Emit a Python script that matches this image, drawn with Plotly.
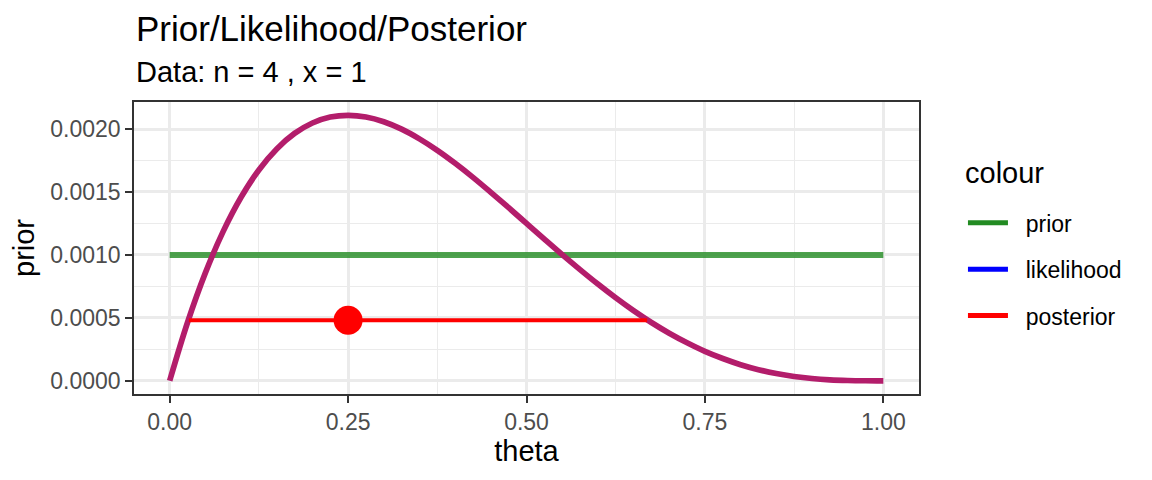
import plotly.graph_objects as go

# posterior values (theta step 0.025)
theta = [i * 0.025 for i in range(41)]
posterior = [
    0.0, 0.000463, 0.000857, 0.001187, 0.001458, 0.001675, 0.001842, 0.001965,
    0.002048, 0.002095, 0.002109, 0.002096, 0.002058, 0.001999, 0.001922, 0.001831,
    0.001728, 0.001616, 0.001497, 0.001375, 0.00125, 0.001125, 0.001002, 0.000883,
    0.000768, 0.000659, 0.000557, 0.000463, 0.000378, 0.000302, 0.000234, 0.000177,
    0.000128, 0.0000884, 0.0000574, 0.0000342, 0.000018, 0.0000078, 0.0000024,
    0.0000003, 0.0,
]
prior_theta = [0.0, 1.0]
prior = [0.001, 0.001]

# interval and mode for the posterior
interval_theta = [0.027, 0.669]
interval_height = [0.00048, 0.00048]
mode_theta = [0.25]
mode_height = [0.00048]

x_ticks = [0.0, 0.25, 0.5, 0.75, 1.0]
x_labels = ["0.00", "0.25", "0.50", "0.75", "1.00"]
y_ticks = [0.0, 0.0005, 0.001, 0.0015, 0.002]
y_labels = ["0.0000", "0.0005", "0.0010", "0.0015", "0.0020"]

font = "Liberation Sans, Arial, sans-serif"

fig = go.Figure()

# prior line
fig.add_trace(go.Scatter(
    x=prior_theta, y=prior, mode="lines",
    line=dict(color="rgba(34,139,34,0.8)", width=6),
    showlegend=False, hoverinfo="skip",
))

# likelihood (scaled) and posterior overlap -> purple
fig.add_trace(go.Scatter(
    x=theta, y=posterior, mode="lines",
    line=dict(color="#B31D6B", width=5.7, shape="spline"),
    showlegend=False,
))

# posterior interval + mode
fig.add_trace(go.Scatter(
    x=interval_theta, y=interval_height, mode="lines",
    line=dict(color="#FF0000", width=4),
    showlegend=False, hoverinfo="skip",
))
fig.add_trace(go.Scatter(
    x=mode_theta, y=mode_height, mode="markers",
    marker=dict(color="#FF0000", size=29),
    showlegend=False,
))

# legend entries
for name, col in [("prior", "#228B22"), ("likelihood", "#0000FF"), ("posterior", "#FF0000")]:
    fig.add_trace(go.Scatter(
        x=[None], y=[None], mode="lines", name="\u00a0\u00a0" + name, legendgroup=name,
        line=dict(color=col, width=5),
    ))

fig.update_layout(
    width=1152, height=480,
    paper_bgcolor="white", plot_bgcolor="white",
    margin=dict(l=126, r=241, t=94, b=94),
    font=dict(family=font, color="#000000"),
    legend=dict(
        x=1.056, y=0.66, xanchor="left", yanchor="top",
        font=dict(size=23),
        tracegroupgap=13.5,
        itemwidth=40,
    ),
    annotations=[
        dict(text="Prior/Likelihood/Posterior", x=0, y=1, xref="paper", yref="paper",
             xanchor="left", yanchor="bottom", yshift=52, xshift=0,
             showarrow=False, font=dict(size=35)),
        dict(text="Data: n = 4 , x = 1", x=0, y=1, xref="paper", yref="paper",
             xanchor="left", yanchor="bottom", yshift=12,
             showarrow=False, font=dict(size=29)),
        dict(text="colour", x=1.056, y=(392 - 171) / 292, xref="paper", yref="paper",
             xanchor="left", yanchor="middle",
             showarrow=False, font=dict(size=29)),
    ],
)

fig.update_xaxes(
    range=[-0.05, 1.05], tickvals=x_ticks, ticktext=x_labels,
    title=dict(text="theta", font=dict(size=29), standoff=6),
    tickfont=dict(size=23, color="#4D4D4D"),
    ticks="outside", ticklen=7, tickcolor="#333333", tickwidth=1.5,
    showgrid=True, gridcolor="#EBEBEB", gridwidth=2.5,
    minor=dict(tickvals=[0.125, 0.375, 0.625, 0.875], showgrid=True,
               gridcolor="#EBEBEB", gridwidth=1.2),
    zeroline=False, showline=True, linecolor="#333333", linewidth=1.5, mirror=True,
)
fig.update_yaxes(
    range=[-0.000105, 0.0022148], tickvals=y_ticks, ticktext=y_labels,
    title=dict(text="prior", font=dict(size=29), standoff=8),
    tickfont=dict(size=23, color="#4D4D4D"),
    ticks="outside", ticklen=7, tickcolor="#333333", tickwidth=1.5,
    showgrid=True, gridcolor="#EBEBEB", gridwidth=2.5,
    minor=dict(tickvals=[0.00025, 0.00075, 0.00125, 0.00175], showgrid=True,
               gridcolor="#EBEBEB", gridwidth=1.2),
    zeroline=False, showline=True, linecolor="#333333", linewidth=1.5, mirror=True,
)

fig.write_html("out.html")
